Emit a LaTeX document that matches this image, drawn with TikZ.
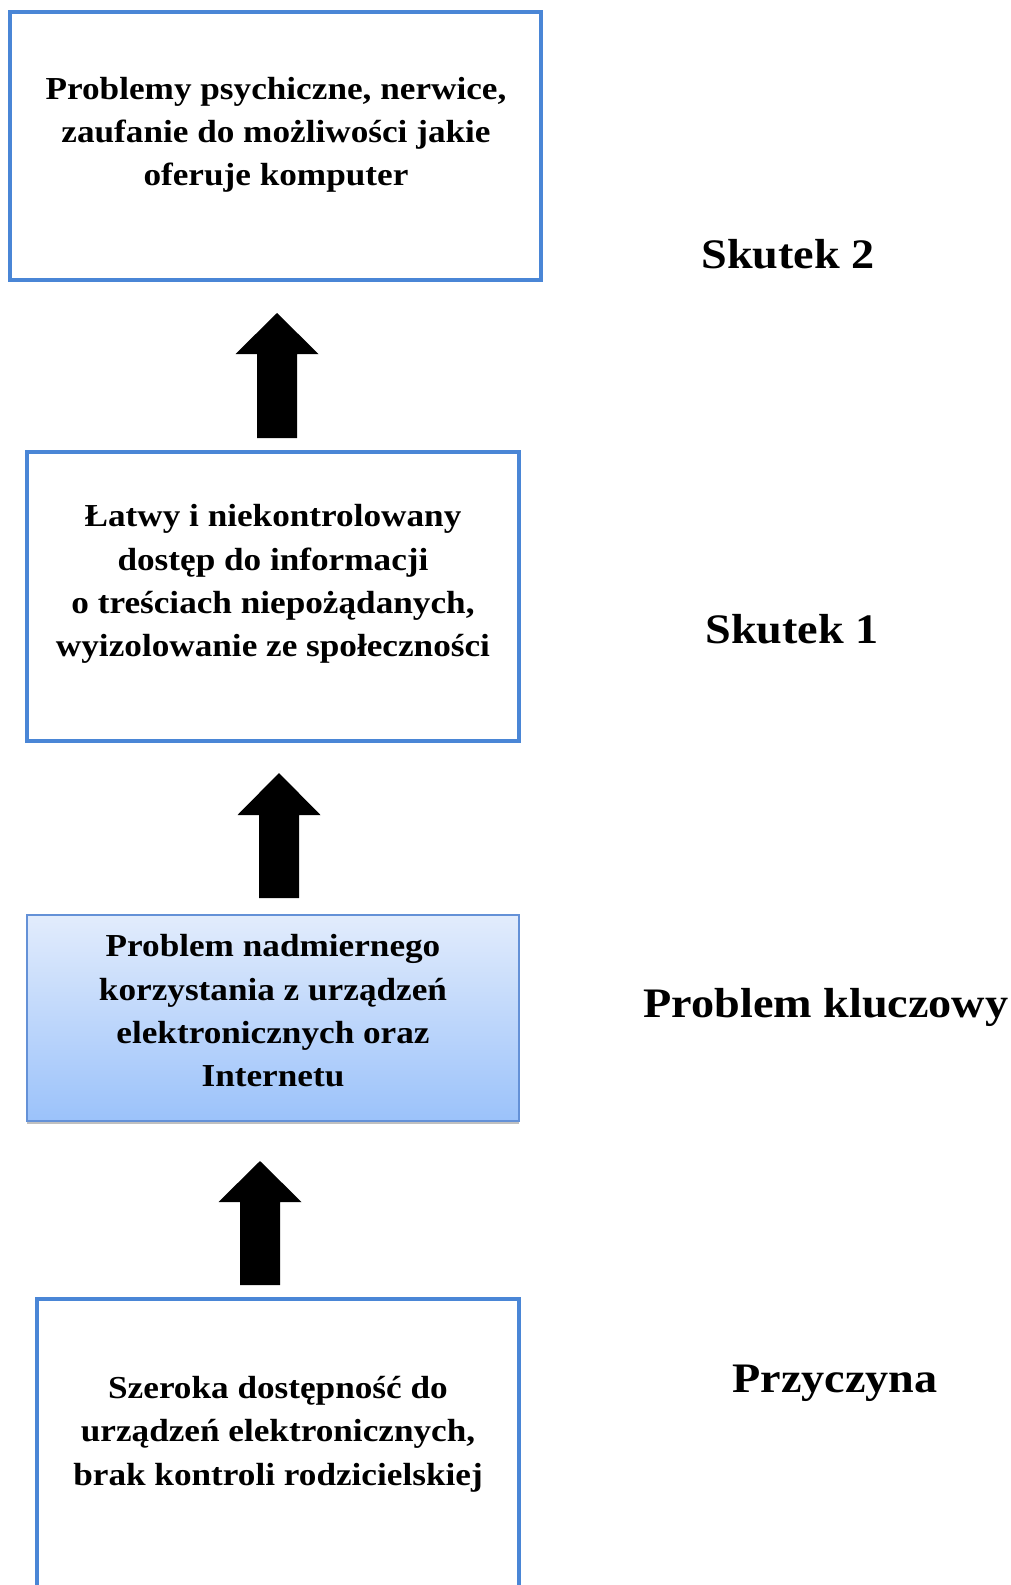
\documentclass[tikz,border=0pt]{standalone}
\usepackage{fontspec}
\setmainfont{Liberation Serif}[FakeStretch=1.1]
\usetikzlibrary{shadows}
\definecolor{boxblue}{RGB}{74,134,214}
\definecolor{gradtop}{RGB}{226,236,252}
\definecolor{gradbot}{RGB}{155,194,250}
\definecolor{gradborder}{RGB}{100,145,215}
\tikzset{
  framebox/.style={draw=boxblue, line width=4pt, fill=white},
  keybox/.style={top color=gradtop, bottom color=gradbot,
     drop shadow={shadow xshift=0pt, shadow yshift=-3pt, opacity=0.35, fill=black!70}},
  boxtext/.style={align=center, font=\bfseries\fontsize{32}{43.3}\selectfont, inner sep=0pt},
  sidelabel/.style={font=\bfseries\fontsize{42}{50}\selectfont, inner sep=0pt},
  blockarrow/.style={fill=black}
}
\begin{document}
\begin{tikzpicture}[x=1pt,y=-1pt]
\useasboundingbox (0,0) rectangle (1011,1585);
\fill[white] (0,0) rectangle (1011,1585);

% boxes
\draw[framebox] (10,12) rectangle (541,280);
\node[boxtext] (t1) at (276,135) {Problemy psychiczne, nerwice,\\zaufanie do możliwości jakie\\oferuje komputer};

\draw[framebox] (27,452) rectangle (519,741);
\node[boxtext] (t2) at (273,584) {Łatwy i niekontrolowany\\dostęp do informacji\\o treściach niepożądanych,\\wyizolowanie ze społeczności};

\fill[keybox] (27,915) rectangle (519,1121);
\draw[draw=gradborder, line width=1.5pt] (27,915) rectangle (519,1121);
\node[boxtext] (t3) at (273,1011) {Problem nadmiernego\\korzystania z urządzeń\\elektronicznych oraz\\Internetu};

\draw[framebox] (37,1299) rectangle (519,1620);
\node[boxtext] (t4) at (278,1434) {Szeroka dostępność do\\urządzeń elektronicznych,\\brak kontroli rodzicielskiej};

% side labels
\node[sidelabel] (l1) at (788,254) {Skutek 2};
\node[sidelabel] (l2) at (792,629) {Skutek 1};
\node[sidelabel] (l3) at (826,1007) {Problem kluczowy};
\node[sidelabel] (l4) at (835,1383) {Przyczyna};

% block arrows
\coordinate (a1) at (277,438);
\fill[blockarrow] (a1) ++(-20,0) -- ++(0,-84) -- ++(-21.5,0) -- ++(41.5,-41) -- ++(41.5,41) -- ++(-21.5,0) -- ++(0,84) -- cycle;
\coordinate (a2) at (279,898);
\fill[blockarrow] (a2) ++(-20,0) -- ++(0,-83) -- ++(-21.5,0) -- ++(41.5,-42) -- ++(41.5,42) -- ++(-21.5,0) -- ++(0,83) -- cycle;
\coordinate (a3) at (260,1285);
\fill[blockarrow] (a3) ++(-20,0) -- ++(0,-83) -- ++(-21.5,0) -- ++(41.5,-41) -- ++(41.5,41) -- ++(-21.5,0) -- ++(0,83) -- cycle;
\end{tikzpicture}
\end{document}
